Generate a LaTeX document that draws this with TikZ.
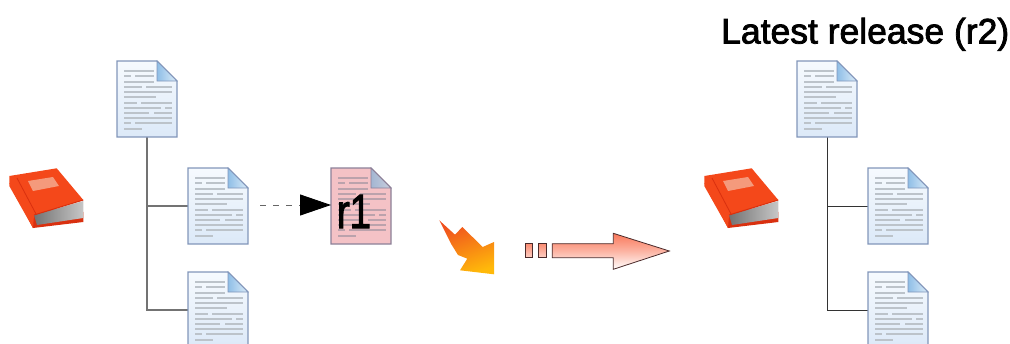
\documentclass[tikz,border=0pt]{standalone}
\usepackage{fontspec}
\setmainfont[FakeBold=2.2]{Liberation Sans}
\usetikzlibrary{arrows.meta}
\definecolor{docedge}{HTML}{8296BA}
\definecolor{doctop}{HTML}{F6FAFE}
\definecolor{docbot}{HTML}{DCE9F8}
\definecolor{docline}{HTML}{BCC3CA}
\definecolor{foldlight}{HTML}{DCECF9}
\definecolor{folddark}{HTML}{8FBEE6}
\definecolor{pinkfill}{HTML}{F4C2C6}
\definecolor{pinkline}{HTML}{BBA2AC}
\definecolor{pinkedge}{HTML}{8C8098}
\definecolor{pinkfoldlight}{HTML}{C9CEDD}
\definecolor{pinkfolddark}{HTML}{A3B6D2}
\definecolor{bookred}{HTML}{F4481A}
\definecolor{bookdark}{HTML}{D9300F}
\definecolor{booktitle}{HTML}{F49A7C}
\definecolor{arrowtop}{HTML}{F9785A}
\definecolor{arrowline}{HTML}{4A2A2A}
\definecolor{boltred}{HTML}{F0501E}
\definecolor{boltyellow}{HTML}{FFB90A}
\tikzset{
  docbox/.style={anchor=north west,inner sep=0pt,outer sep=0pt,minimum width=60pt,minimum height=76pt},
  bookbox/.style={anchor=north west,inner sep=0pt,outer sep=0pt,minimum width=75pt,minimum height=60pt},
  treeline/.style={draw=black!55,line width=1.2pt},
  treelinedark/.style={draw=black!80,line width=0.9pt},
  bigarrow/.style={draw=arrowline,line width=0.8pt,top color=arrowtop,bottom color=white,middle color=arrowtop!55},
  bigarrowbar/.style={draw=arrowline,line width=0.8pt,top color=arrowtop!85,bottom color=arrowtop!35},
}
\newcommand{\docrows}[1]{%
  \foreach \ya/\xa/\xb in {10/7/37,15/7/14,15/18/37,20.7/7/37,26/7/25,26/29/55,31/7/55,36/7/39,42/7/20,42/24/55,47/7/44,47/48/55,52/7/32,52/37/55,57/7/55,62/7/14,62/18/55,68/7/25}
    \draw[#1,line width=1.9pt] (\xa,\ya) -- (\xb,\ya);}
\newcommand{\pinkdoc}[1]{%
  \begin{scope}[shift={(#1.north west)}]
    \path[draw=pinkedge,line width=1.1pt,fill=pinkfill] (0,0) -- (40,0) -- (60,20) -- (60,76) -- (0,76) -- cycle;
    \docrows{pinkline}
    \path[draw=pinkedge,line width=0.8pt,left color=pinkfolddark,right color=pinkfoldlight] (40,0) -- (60,20) -- (40,20) -- cycle;
  \end{scope}}
\newcommand{\bluedoc}[1]{%
  \begin{scope}[shift={(#1.north west)}]
    \path[draw=docedge,line width=1.1pt,top color=doctop,bottom color=docbot] (0,0) -- (40,0) -- (60,20) -- (60,76) -- (0,76) -- cycle;
    \docrows{docline}
    \path[draw=docedge,line width=0.8pt,left color=folddark,right color=foldlight] (40,0) -- (60,20) -- (40,20) -- cycle;
  \end{scope}}
\newcommand{\bookicon}[1]{%
  \begin{scope}[shift={(#1.north west)}]
    \fill[bookdark] (0.3,15) -- (24,60) -- (74.3,54) -- (74.3,44) -- (30,40) -- cycle;
    \path[left color=black!55,right color=black!22] (25,47) -- (74.3,33) -- (74.3,50) -- (28,57) -- cycle;
    \fill[bookred] (0.3,8) -- (47.7,0.3) -- (74.3,32) -- (25,47) -- (24,60) -- (0.3,18) -- cycle;
    \draw[bookdark,line width=0.8pt] (8,10) -- (27,46);
    \draw[bookdark,line width=1pt] (25,47) -- (74.3,32);
    \fill[booktitle] (19,13) -- (44,9) -- (50,18) -- (24,23) -- cycle;
  \end{scope}}
\begin{document}
\begin{tikzpicture}[x=1pt,y=-1pt]
\useasboundingbox (0,0) rectangle (1010,343);
\clip (0,0) rectangle (1010,343);
% left tree
\node[docbox] (la) at (117,61) {};
\node[docbox] (lb) at (188,168) {};
\node[docbox] (lc) at (188,272) {};
\node[docbox] (rel) at (331,168) {};
\node[bookbox] (lbook) at (9,168) {};
\bookicon{lbook}
\draw[treeline] (la.south) |- (lb.west);
\draw[treeline] (la.south) |- (lc.west);
\bluedoc{la}\bluedoc{lb}\bluedoc{lc}
\pinkdoc{rel}
\node[font=\fontsize{48}{48}\selectfont,text=black,inner sep=0pt,xscale=0.8,anchor=base] (rtext) at (354,228) {r1};
\coordinate (dstart) at (260,205);
\draw[draw=black!60,line width=0.9pt,dash pattern=on 6pt off 7pt,
  -{Triangle[length=31pt,width=21pt,fill=black,color=black]}] (dstart) -- (dstart -| rel.west);
% lightning
\node[inner sep=0pt,minimum width=55pt,minimum height=54pt,anchor=north west] (bolt) at (439,220) {};
\path[left color=boltred,right color=boltyellow,shading angle=20] (439.3,220.3) -- (455,234.7) -- (462.3,227) -- (482.7,247) -- (494,242) -- (494,274.3) -- (460,270.3) -- (467.3,258.7) -- (458,255) -- (451,243.7) -- cycle;
% dashed big arrow
\path[bigarrowbar] (525.5,243.7) rectangle (532.7,257.7);
\path[bigarrowbar] (538.7,243.7) rectangle (546,257.7);
\path[bigarrow] (552.3,243.7) -- (613.3,243.7) -- (613.3,233.3) -- (669.3,251) -- (613.3,269.3) -- (613.3,257.7) -- (552.3,257.7) -- cycle;
% right tree
\node[docbox] (ra) at (797,61) {};
\node[docbox] (rb) at (868,168) {};
\node[docbox] (rc) at (868,272) {};
\node[bookbox] (rbook) at (704,168) {};
\bookicon{rbook}
\draw[treelinedark] (ra.south) |- (rb.west);
\draw[treelinedark] (ra.south) |- (rc.west);
\bluedoc{ra}\bluedoc{rb}\bluedoc{rc}
\node[font=\fontsize{35.5}{36}\selectfont,text=black,anchor=base west,inner sep=0pt] (title) at (721,43.5) {Latest release (r2)};
\end{tikzpicture}
\end{document}
